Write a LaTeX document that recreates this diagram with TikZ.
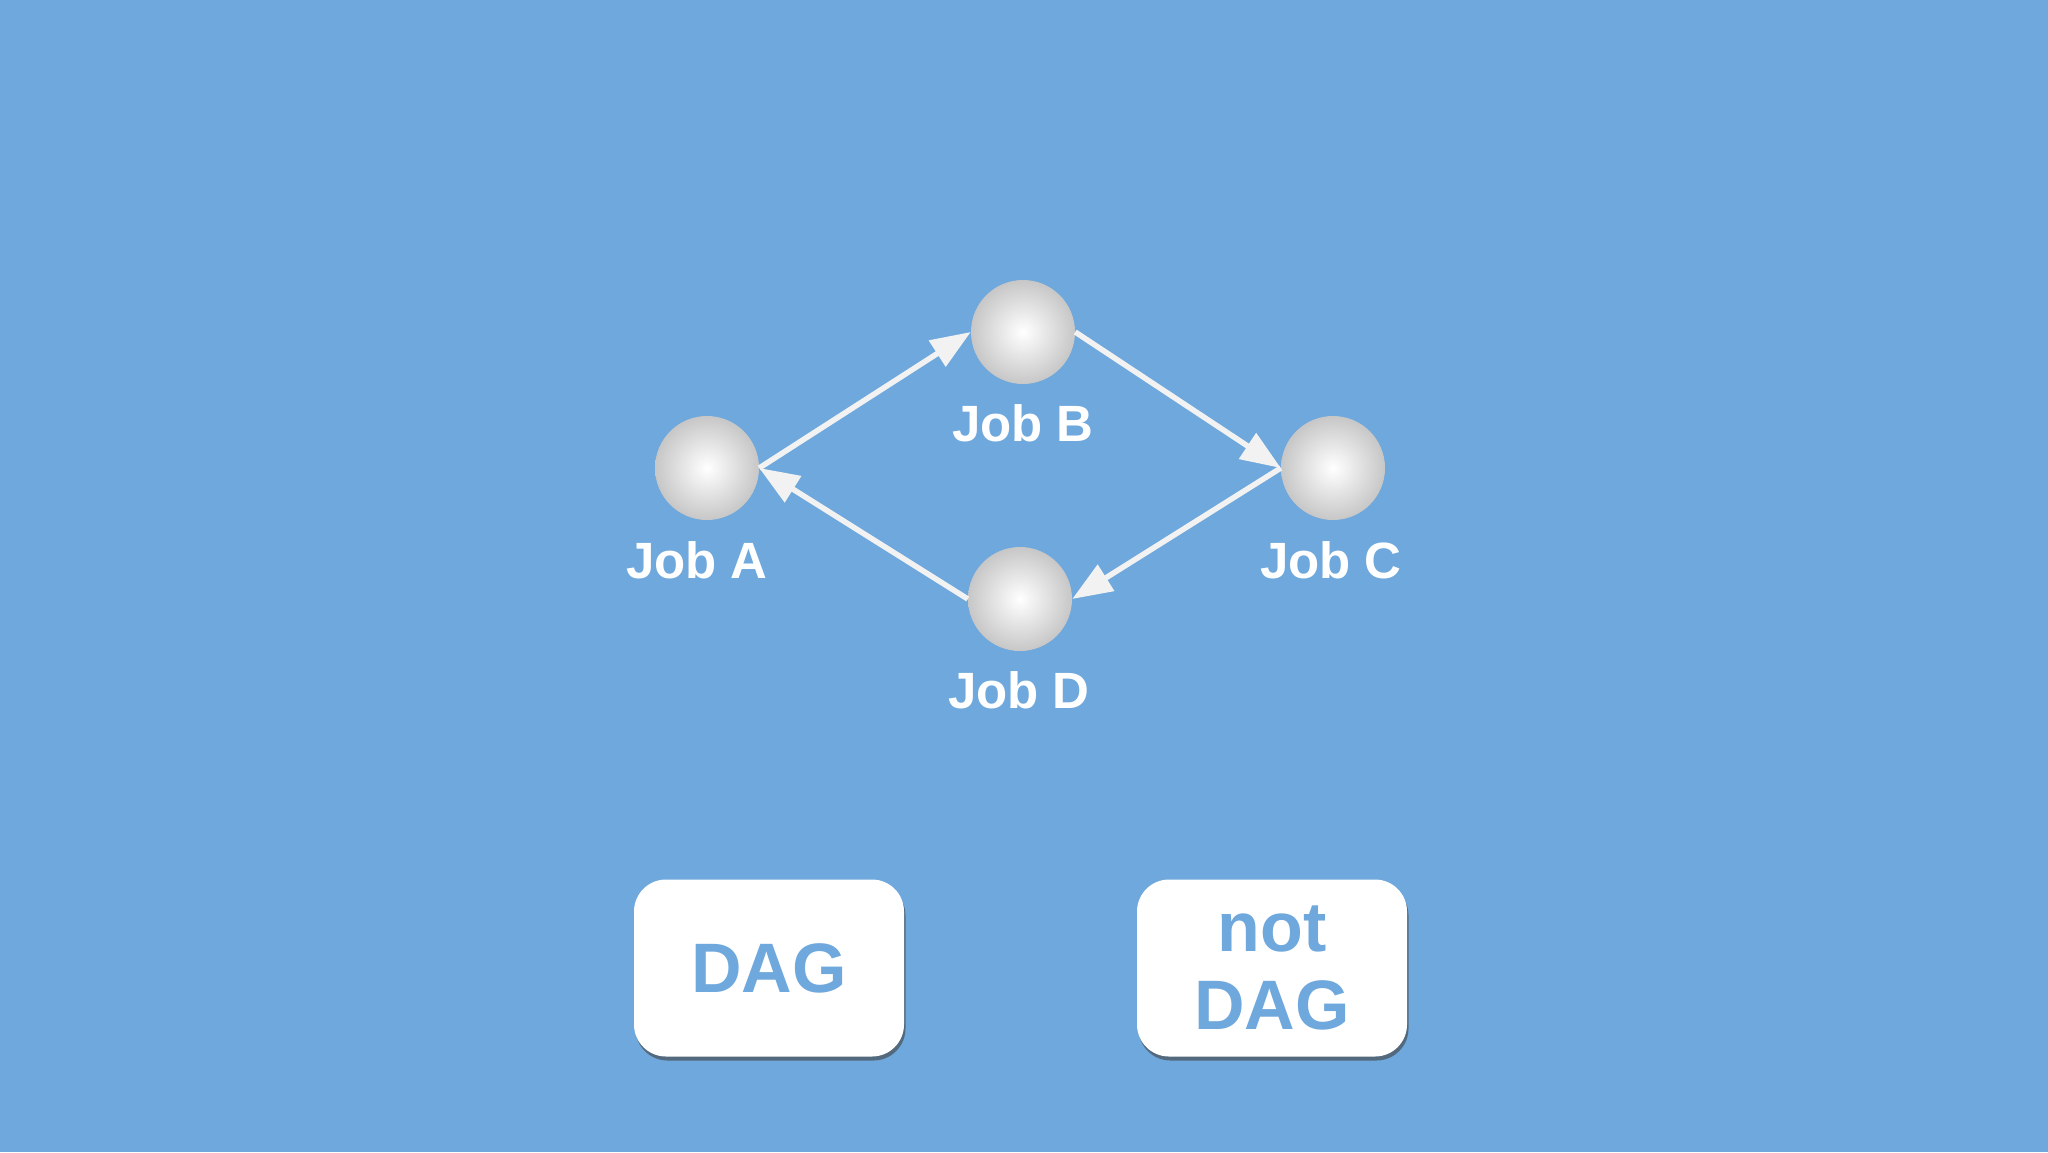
\documentclass[tikz,border=0pt]{standalone}
\usepackage{fontspec}
\setmainfont{Liberation Sans}
\usetikzlibrary{arrows.meta,shadows}
\definecolor{bgblue}{HTML}{6FA8DC}
\definecolor{edgewhite}{HTML}{F2F2F2}
\begin{document}
\begin{tikzpicture}[x=1pt,y=-1pt,
  job/.style={circle,minimum size=104pt,inner sep=0pt,shading=radial,inner color=white,outer color=black!22},
  joblabel/.style={anchor=base,text=white,font=\fontsize{51}{56}\selectfont\bfseries},
  edge/.style={draw=edgewhite,line width=5.5pt,-{Triangle[length=40pt,width=30pt]}},
  tag/.style={draw=none,fill=white,rounded corners=32pt,minimum width=270pt,minimum height=177pt,
    drop shadow={shadow xshift=1.5pt,shadow yshift=-4pt,opacity=0.6,fill=black!75},
    text=bgblue,font=\fontsize{70}{80}\selectfont\bfseries,align=center,inner sep=0pt}]
\fill[bgblue] (0,0) rectangle (2048,1152);
\useasboundingbox (0,0) rectangle (2048,1152);
\node[job] (A) at (707,468) {};
\node[job] (B) at (1023,332) {};
\node[job] (C) at (1333,468) {};
\node[job] (D) at (1020,599) {};
\node[joblabel] (la) at (697,578) {Job A};
\node[joblabel] (lb) at (1023,441) {Job B};
\node[joblabel] (lc) at (1331,578) {Job C};
\node[joblabel] (ld) at (1019,708) {Job D};
\draw[edge] (A.east) -- (B.west);
\draw[edge] (B.east) -- (C.west);
\draw[edge] (C.west) -- (D.east);
\draw[edge] (D.west) -- (A.east);
\node[tag] (dag) at (769,968) {DAG};
\node[tag] (notdag) at (1272,968) {not\\[-2pt]DAG};
\end{tikzpicture}
\end{document}
